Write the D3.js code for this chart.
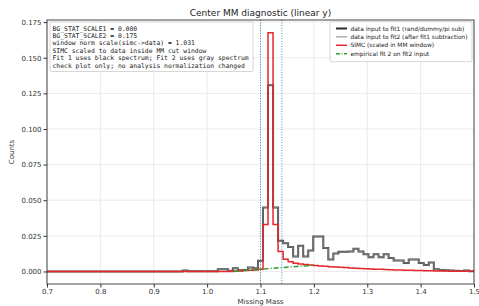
<!DOCTYPE html>
<html>
<head>
<meta charset="utf-8">
<script src="https://cdn.jsdelivr.net/npm/d3@7"></script>
<style>
  body { margin: 0; background: #fff; }
  svg { font-family: "DejaVu Sans", sans-serif; }
</style>
</head>
<body>
<div id="chart"></div>
<script>
// Histogram bins: 85 bins from 0.7 to 1.5
const binLo = 0.7;
const binHi = 1.5;
const nBins = 85;

// data input to fit1 (black) - one value per bin
const fit1Input = [
  0,0,0,0,0,0,0,0,0,0,
  0,0,0,0,0,0,0,0,0,0,
  0,0,0,0,0,0,0,0.0007,0.0001,0.0001,
  0.0001,0.0002,0.0002,0.0002,0.0015,0.0015,0.0005,0.0022,0.0008,0.0010,
  0.0028,0.0022,0.0075,0.0449,0.1307,0.0449,0.0215,0.0198,0.0172,0.0105,
  0.0180,0.0105,0.0147,0.0245,0.0245,0.0165,0.0084,0.0126,0.0138,0.0138,
  0.0140,0.0160,0.0140,0.0120,0.0100,0.0120,0.0100,0.0120,0.0095,0.0077,
  0.0077,0.0060,0.0084,0.0084,0.0060,0.0045,0.0063,0.0015,0.0010,0.0008,
  0.0006,0.0005,0.0004,0.0006,0.0002
];

// data input to fit2 (gray) - after fit1 subtraction, sits on the black one
const fit2Input = fit1Input;

// SIMC scaled in MM window (red)
const simc = [
  0,0,0,0,0,0,0,0,0,0,
  0,0,0,0,0,0,0,0,0,0,
  0,0,0,0,0,0,0,0,0,0,
  0,0,0,0,0,0,0,0.0003,0.0004,0.0006,
  0.0008,0.0010,0.0015,0.0330,0.1676,0.0330,0.0140,0.0085,0.0068,0.0058,
  0.0052,0.0048,0.0045,0.0042,0.0039,0.0036,0.0033,0.0031,0.0029,0.0027,
  0.0025,0.0023,0.0021,0.0019,0.0018,0.0016,0.0015,0.0014,0.0012,0.0011,
  0.0010,0.0009,0.0008,0.0007,0.0006,0.0005,0.0005,0.0004,0.0003,0.0003,
  0.0002,0.0002,0.0001,0.0001,0.0001
];

// empirical fit 2 (green dash-dot)
const fitX = [1.05, 1.075, 1.10, 1.125, 1.15, 1.175, 1.20];
const fitY = [0.0000, 0.0008, 0.0015, 0.0023, 0.0030, 0.0037, 0.0043];

// MM cut window
const cutLines = [1.10, 1.14];

const xTicks = [0.7, 0.8, 0.9, 1.0, 1.1, 1.2, 1.3, 1.4, 1.5];
const yTicks = [0, 0.025, 0.05, 0.075, 0.1, 0.125, 0.15, 0.175];

const infoLines = [
  "BG_STAT_SCALE1 = 0.000",
  "BG_STAT_SCALE2 = 0.175",
  "window norm scale(simc->data) = 1.031",
  "SIMC scaled to data inside MM cut window",
  "Fit 1 uses black spectrum; Fit 2 uses gray spectrum",
  "check plot only; no analysis normalization changed"
];

const legendLabels = [
  "data input to fit1 (rand/dummy/pi sub)",
  "data input to fit2 (after fit1 subtraction)",
  "SIMC (scaled in MM window)",
  "empirical fit 2 on fit2 input"
];

const width = 479, height = 306;
const margin = { top: 20, right: 5, bottom: 22, left: 47 };

const svg = d3.select("#chart").append("svg")
  .attr("width", width)
  .attr("height", height);

const x = d3.scaleLinear().domain([binLo, binHi]).range([margin.left, width - margin.right]);
const y = d3.scaleLinear().domain([-0.0088, 0.1765]).range([height - margin.bottom, margin.top]);

const binW = (binHi - binLo) / nBins;

// grid
svg.append("g").selectAll("line.gx").data(xTicks).join("line")
  .attr("x1", d => x(d)).attr("x2", d => x(d))
  .attr("y1", margin.top).attr("y2", height - margin.bottom)
  .attr("stroke", "#e6e6e6").attr("stroke-width", 0.8);
svg.append("g").selectAll("line.gy").data(yTicks).join("line")
  .attr("x1", margin.left).attr("x2", width - margin.right)
  .attr("y1", d => y(d)).attr("y2", d => y(d))
  .attr("stroke", "#e6e6e6").attr("stroke-width", 0.8);

// step path builder for histogram
function stepPath(vals) {
  const pts = [];
  vals.forEach((v, i) => {
    pts.push([binLo + i * binW, v]);
    pts.push([binLo + (i + 1) * binW, v]);
  });
  return d3.line().x(d => x(d[0])).y(d => y(d[1]))(pts);
}

const plot = svg.append("g");

// cut window lines
plot.selectAll("line.cut").data(cutLines).join("line")
  .attr("x1", d => x(d)).attr("x2", d => x(d))
  .attr("y1", margin.top).attr("y2", height - margin.bottom)
  .attr("stroke", "#1f77b4").attr("stroke-width", 1)
  .attr("stroke-dasharray", "1,1.6").attr("opacity", 0.85);

plot.append("path").attr("d", stepPath(fit1Input))
  .attr("fill", "none").attr("stroke", "#2a2a2a").attr("stroke-width", 2).attr("opacity", 0.85);
plot.append("path").attr("d", stepPath(fit2Input))
  .attr("fill", "none").attr("stroke", "#888").attr("stroke-width", 0.8);
plot.append("path").attr("d", stepPath(simc))
  .attr("fill", "none").attr("stroke", "#e5262b").attr("stroke-width", 1.5);

plot.append("path")
  .attr("d", d3.line().x((d, i) => x(fitX[i])).y((d, i) => y(fitY[i]))(fitX))
  .attr("fill", "none").attr("stroke", "#2ca02c").attr("stroke-width", 1.5)
  .attr("stroke-dasharray", "5,2,1,2");

// frame
svg.append("rect")
  .attr("x", margin.left).attr("y", margin.top)
  .attr("width", width - margin.left - margin.right)
  .attr("height", height - margin.top - margin.bottom)
  .attr("fill", "none").attr("stroke", "#333").attr("stroke-width", 0.9);

// axes
const xAxis = svg.append("g")
  .attr("transform", `translate(0,${height - margin.bottom})`)
  .call(d3.axisBottom(x).tickValues(xTicks).tickFormat(d3.format(".1f")).tickSize(3.5).tickPadding(2));
const yAxis = svg.append("g")
  .attr("transform", `translate(${margin.left},0)`)
  .call(d3.axisLeft(y).tickValues(yTicks).tickFormat(d3.format(".3f")).tickSize(3.5).tickPadding(2));
[xAxis, yAxis].forEach(a => {
  a.select(".domain").remove();
  a.selectAll("line").attr("stroke", "#333");
  a.selectAll("text").attr("fill", "#333").style("font-size", "7px")
    .style("font-family", "DejaVu Sans");
});

// title and labels
svg.append("text")
  .attr("x", (margin.left + width - margin.right) / 2).attr("y", 15.5)
  .attr("text-anchor", "middle").style("font-size", "9px").attr("fill", "#222")
  .text("Center MM diagnostic (linear y)");
svg.append("text")
  .attr("x", (margin.left + width - margin.right) / 2).attr("y", 304)
  .attr("text-anchor", "middle").style("font-size", "7px").attr("fill", "#333")
  .text("Missing Mass");
svg.append("text")
  .attr("transform", `translate(13.5,${(margin.top + height - margin.bottom) / 2}) rotate(-90)`)
  .attr("text-anchor", "middle").style("font-size", "7px").attr("fill", "#333")
  .text("Counts");

// info box
const info = svg.append("g");
info.append("rect")
  .attr("x", 50).attr("y", 22).attr("width", 203).attr("height", 49.5).attr("rx", 1.5)
  .attr("fill", "#fff").attr("fill-opacity", 0.85).attr("stroke", "#ccc").attr("stroke-width", 0.8);
info.selectAll("text").data(infoLines).join("text")
  .attr("x", 52.5).attr("y", (d, i) => 30.5 + i * 7.4)
  .style("font-family", "DejaVu Sans Mono").style("font-size", "6.4px").attr("fill", "#222")
  .text(d => d);

// legend
const legendColors = ["#2a2a2a", "#888", "#e5262b", "#2ca02c"];
const legendWidths = [2, 1, 1.5, 1.5];
const legend = svg.append("g");
legend.append("rect")
  .attr("x", 330).attr("y", 21.7).attr("width", 142).attr("height", 40).attr("rx", 1.5)
  .attr("fill", "#fff").attr("fill-opacity", 0.85).attr("stroke", "#ccc").attr("stroke-width", 0.8);
const items = legend.selectAll("g.item").data(legendLabels).join("g")
  .attr("transform", (d, i) => `translate(336,${28.5 + i * 8.4})`);
items.append("line")
  .attr("x1", 0).attr("x2", 11).attr("y1", 0).attr("y2", 0)
  .attr("stroke", (d, i) => legendColors[i])
  .attr("stroke-width", (d, i) => legendWidths[i])
  .attr("stroke-dasharray", (d, i) => i === 3 ? "4,1.5,1,1.5" : null);
items.append("text")
  .attr("x", 14.5).attr("y", 2.1)
  .style("font-size", "5.9px").attr("fill", "#222")
  .text(d => d);
</script>
</body>
</html>
